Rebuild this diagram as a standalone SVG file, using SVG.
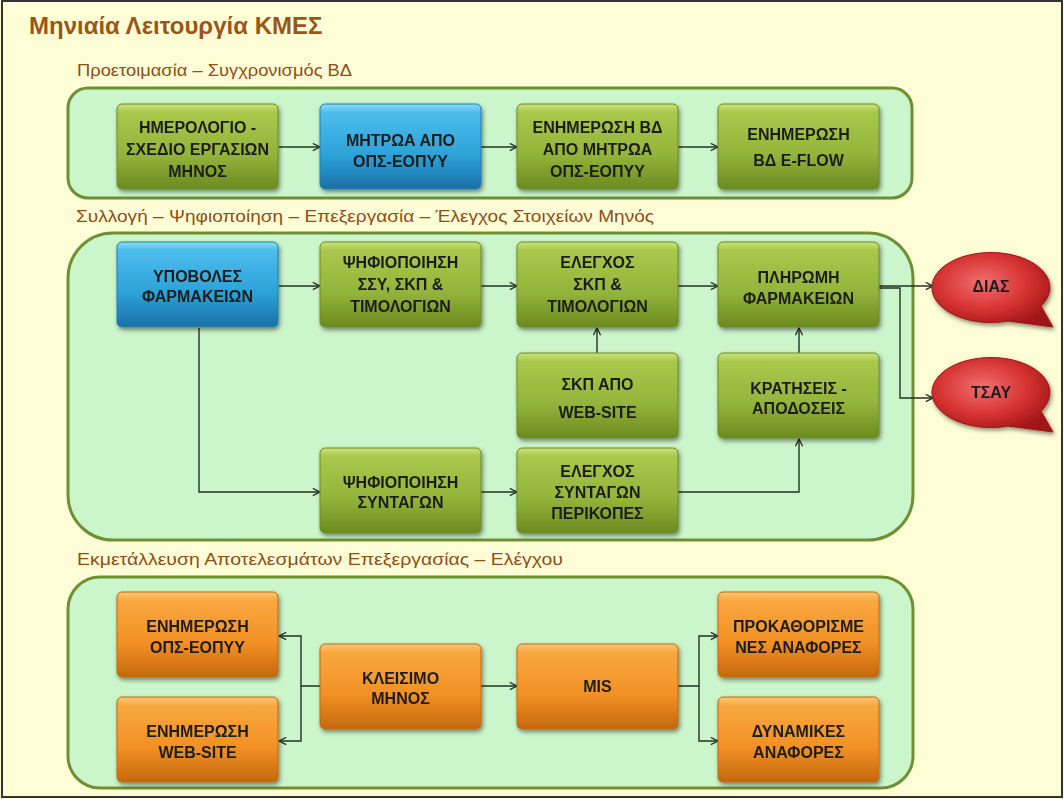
<svg xmlns="http://www.w3.org/2000/svg" width="1064" height="799" viewBox="0 0 1064 799">
<style>
.ttl{font-family:"Liberation Sans",Arial,sans-serif;font-weight:bold;font-size:24px;fill:#9a5618}
.sub{font-family:"Liberation Sans",Arial,sans-serif;font-size:17px;fill:#8e4e14}
.cont{stroke:#6f8f33;stroke-width:3;fill:#cbf5cb}
.box{stroke-width:1}
.green{fill:url(#gGreen);stroke:#6a8a24}
.blue{fill:url(#gBlue);stroke:#1f7fb0}
.orange{fill:url(#gOrange);stroke:#c0680e}
.red{fill:url(#gRed);stroke:#9e1414;stroke-width:1}
.lbl{font-family:"Liberation Sans",Arial,sans-serif;font-weight:bold;font-size:16px;fill:#1e1e1e;text-anchor:middle}
.con{fill:none;stroke:#263026;stroke-width:1.4}
</style>
<defs>
<linearGradient id="gGreen" x1="0" y1="0" x2="0" y2="1">
<stop offset="0" stop-color="#cbe27a"/><stop offset="0.1" stop-color="#a9c84c"/><stop offset="0.6" stop-color="#93b43a"/><stop offset="1" stop-color="#6c8a20"/>
</linearGradient>
<linearGradient id="gBlue" x1="0" y1="0" x2="0" y2="1">
<stop offset="0" stop-color="#8adcf7"/><stop offset="0.1" stop-color="#4cbdec"/><stop offset="0.6" stop-color="#2ca2d8"/><stop offset="1" stop-color="#1a70a6"/>
</linearGradient>
<linearGradient id="gOrange" x1="0" y1="0" x2="0" y2="1">
<stop offset="0" stop-color="#fcc775"/><stop offset="0.1" stop-color="#f9a840"/><stop offset="0.6" stop-color="#f29024"/><stop offset="1" stop-color="#c4680e"/>
</linearGradient>
<radialGradient id="gRed" cx="0.42" cy="0.4" r="0.65">
<stop offset="0" stop-color="#f07070"/><stop offset="0.55" stop-color="#d83434"/><stop offset="1" stop-color="#a01414"/>
</radialGradient>
<filter id="sh" x="-10%" y="-10%" width="125%" height="130%">
<feDropShadow dx="1.5" dy="2.5" stdDeviation="2" flood-color="#000" flood-opacity="0.45"/>
</filter>
<marker id="ar" viewBox="0 0 10 10" refX="9" refY="5" markerWidth="9" markerHeight="9" orient="auto" markerUnits="userSpaceOnUse">
<path d="M1,1 L9,5 L1,9" fill="none" stroke="#263026" stroke-width="1.5"/>
</marker>
</defs>

<rect x="0" y="0" width="1064" height="799" fill="#fefed6"/>
<rect x="2" y="1" width="1060" height="796" fill="none" stroke="#333" stroke-width="2"/>

<text class="ttl" x="29" y="34">Μηνιαία Λειτουργία ΚΜΕΣ</text>
<text class="sub" x="77" y="76" textLength="275" lengthAdjust="spacingAndGlyphs">Προετοιμασία – Συγχρονισμός ΒΔ</text>
<text class="sub" x="76" y="222" textLength="578" lengthAdjust="spacingAndGlyphs">Συλλογή – Ψηφιοποίηση – Επεξεργασία – Έλεγχος Στοιχείων Μηνός</text>
<text class="sub" x="77" y="565" textLength="486" lengthAdjust="spacingAndGlyphs">Εκμετάλλευση Αποτελεσμάτων Επεξεργασίας – Ελέγχου</text>

<g id="containers">
<rect class="cont" x="68" y="88" width="844" height="110" rx="20"/>
<rect class="cont" x="68" y="233" width="845" height="307" rx="45"/>
<rect class="cont" x="68" y="577" width="845" height="211" rx="32"/>
</g>

<g id="connectors">
<line class="con" x1="279" y1="147" x2="320" y2="147" marker-end="url(#ar)"/>
<line class="con" x1="481" y1="147" x2="517" y2="147" marker-end="url(#ar)"/>
<line class="con" x1="678" y1="147" x2="718" y2="147" marker-end="url(#ar)"/>
<line class="con" x1="279" y1="286" x2="320" y2="286" marker-end="url(#ar)"/>
<line class="con" x1="481" y1="286" x2="517" y2="286" marker-end="url(#ar)"/>
<line class="con" x1="678" y1="286" x2="718" y2="286" marker-end="url(#ar)"/>
<polyline class="con" points="199,328 199,492 320,492" marker-end="url(#ar)"/>
<line class="con" x1="481" y1="492" x2="517" y2="492" marker-end="url(#ar)"/>
<line class="con" x1="597" y1="353" x2="597" y2="328" marker-end="url(#ar)"/>
<line class="con" x1="799" y1="353" x2="799" y2="328" marker-end="url(#ar)"/>
<polyline class="con" points="678,492 799,492 799,439" marker-end="url(#ar)"/>
<line class="con" x1="879" y1="286" x2="933" y2="286" marker-end="url(#ar)"/>
<polyline class="con" points="879,288 900,288 900,398 933,398" marker-end="url(#ar)"/>
<polyline class="con" points="320,686 301,686 301,636 279,636" marker-end="url(#ar)"/>
<polyline class="con" points="301,686 301,741 279,741" marker-end="url(#ar)"/>
<line class="con" x1="481" y1="686" x2="517" y2="686" marker-end="url(#ar)"/>
<polyline class="con" points="678,686 699,686 699,636 718,636" marker-end="url(#ar)"/>
<polyline class="con" points="699,686 699,741 718,741" marker-end="url(#ar)"/>
</g>

<g id="n-imerologio" filter="url(#sh)"><rect class="box green" x="117" y="104" width="161" height="85" rx="5"/>
<text class="lbl"><tspan x="197.5" y="133">ΗΜΕΡΟΛΟΓΙΟ -</tspan><tspan x="197.5" y="155">ΣΧΕΔΙΟ ΕΡΓΑΣΙΩΝ</tspan><tspan x="197.5" y="177">ΜΗΝΟΣ</tspan></text></g>
<g id="n-mitroa" filter="url(#sh)"><rect class="box blue" x="320" y="104" width="161" height="85" rx="5"/>
<text class="lbl"><tspan x="400.5" y="146">ΜΗΤΡΩΑ ΑΠΟ</tspan><tspan x="400.5" y="167">ΟΠΣ-ΕΟΠΥΥ</tspan></text></g>
<g id="n-enim-bd" filter="url(#sh)"><rect class="box green" x="517" y="104" width="161" height="85" rx="5"/>
<text class="lbl"><tspan x="597.5" y="133">ΕΝΗΜΕΡΩΣΗ ΒΔ</tspan><tspan x="597.5" y="155">ΑΠΟ ΜΗΤΡΩΑ</tspan><tspan x="597.5" y="177">ΟΠΣ-ΕΟΠΥΥ</tspan></text></g>
<g id="n-eflow" filter="url(#sh)"><rect class="box green" x="718" y="104" width="161" height="85" rx="5"/>
<text class="lbl"><tspan x="798.5" y="140">ΕΝΗΜΕΡΩΣΗ</tspan><tspan x="798.5" y="166">ΒΔ E-FLOW</tspan></text></g>

<g id="n-ypovoles" filter="url(#sh)"><rect class="box blue" x="117" y="242" width="161" height="85" rx="5"/>
<text class="lbl"><tspan x="197.5" y="282">ΥΠΟΒΟΛΕΣ</tspan><tspan x="197.5" y="302">ΦΑΡΜΑΚΕΙΩΝ</tspan></text></g>
<g id="n-psif-ssy" filter="url(#sh)"><rect class="box green" x="320" y="242" width="161" height="85" rx="5"/>
<text class="lbl"><tspan x="400.5" y="268">ΨΗΦΙΟΠΟΙΗΣΗ</tspan><tspan x="400.5" y="290">ΣΣΥ, ΣΚΠ &amp;</tspan><tspan x="400.5" y="312">ΤΙΜΟΛΟΓΙΩΝ</tspan></text></g>
<g id="n-elegxos-skp" filter="url(#sh)"><rect class="box green" x="517" y="242" width="161" height="85" rx="5"/>
<text class="lbl"><tspan x="597.5" y="268">ΕΛΕΓΧΟΣ</tspan><tspan x="597.5" y="290">ΣΚΠ &amp;</tspan><tspan x="597.5" y="312">ΤΙΜΟΛΟΓΙΩΝ</tspan></text></g>
<g id="n-pliromi" filter="url(#sh)"><rect class="box green" x="718" y="242" width="161" height="85" rx="5"/>
<text class="lbl"><tspan x="798.5" y="283">ΠΛΗΡΩΜΗ</tspan><tspan x="798.5" y="304">ΦΑΡΜΑΚΕΙΩΝ</tspan></text></g>
<g id="n-skp-web" filter="url(#sh)"><rect class="box green" x="517" y="353" width="161" height="85" rx="5"/>
<text class="lbl"><tspan x="597.5" y="390">ΣΚΠ ΑΠΟ</tspan><tspan x="597.5" y="418">WEB-SITE</tspan></text></g>
<g id="n-kratiseis" filter="url(#sh)"><rect class="box green" x="718" y="353" width="161" height="85" rx="5"/>
<text class="lbl"><tspan x="798.5" y="394">ΚΡΑΤΗΣΕΙΣ -</tspan><tspan x="798.5" y="414">ΑΠΟΔΟΣΕΙΣ</tspan></text></g>
<g id="n-psif-synt" filter="url(#sh)"><rect class="box green" x="320" y="448" width="161" height="85" rx="5"/>
<text class="lbl"><tspan x="400.5" y="488">ΨΗΦΙΟΠΟΙΗΣΗ</tspan><tspan x="400.5" y="508">ΣΥΝΤΑΓΩΝ</tspan></text></g>
<g id="n-elegxos-synt" filter="url(#sh)"><rect class="box green" x="517" y="448" width="161" height="85" rx="5"/>
<text class="lbl"><tspan x="597.5" y="477">ΕΛΕΓΧΟΣ</tspan><tspan x="597.5" y="498">ΣΥΝΤΑΓΩΝ</tspan><tspan x="597.5" y="519">ΠΕΡΙΚΟΠΕΣ</tspan></text></g>

<g id="n-dias" filter="url(#sh)"><path class="red" d="M1008,321 A59,35 0 1 1 1041,306 L1053,327 Z"/>
<text class="lbl" x="991" y="292">ΔΙΑΣ</text></g>
<g id="n-tsay" filter="url(#sh)"><path class="red" d="M1008,426 A59,35 0 1 1 1041,411 L1053,432 Z"/>
<text class="lbl" x="991" y="398">ΤΣΑΥ</text></g>

<g id="n-enim-ops" filter="url(#sh)"><rect class="box orange" x="117" y="592" width="161" height="85" rx="5"/>
<text class="lbl"><tspan x="197.5" y="632">ΕΝΗΜΕΡΩΣΗ</tspan><tspan x="197.5" y="653">ΟΠΣ-ΕΟΠΥΥ</tspan></text></g>
<g id="n-enim-web" filter="url(#sh)"><rect class="box orange" x="117" y="697" width="161" height="85" rx="5"/>
<text class="lbl"><tspan x="197.5" y="737">ΕΝΗΜΕΡΩΣΗ</tspan><tspan x="197.5" y="758">WEB-SITE</tspan></text></g>
<g id="n-kleisimo" filter="url(#sh)"><rect class="box orange" x="320" y="644" width="161" height="85" rx="5"/>
<text class="lbl"><tspan x="400.5" y="684">ΚΛΕΙΣΙΜΟ</tspan><tspan x="400.5" y="704">ΜΗΝΟΣ</tspan></text></g>
<g id="n-mis" filter="url(#sh)"><rect class="box orange" x="517" y="644" width="161" height="85" rx="5"/>
<text class="lbl" x="597.5" y="692">MIS</text></g>
<g id="n-prokath" filter="url(#sh)"><rect class="box orange" x="718" y="592" width="161" height="85" rx="5"/>
<text class="lbl"><tspan x="798.5" y="632">ΠΡΟΚΑΘΟΡΙΣΜΕ</tspan><tspan x="798.5" y="653">ΝΕΣ ΑΝΑΦΟΡΕΣ</tspan></text></g>
<g id="n-dynamikes" filter="url(#sh)"><rect class="box orange" x="718" y="697" width="161" height="85" rx="5"/>
<text class="lbl"><tspan x="798.5" y="737">ΔΥΝΑΜΙΚΕΣ</tspan><tspan x="798.5" y="758">ΑΝΑΦΟΡΕΣ</tspan></text></g>
</svg>
